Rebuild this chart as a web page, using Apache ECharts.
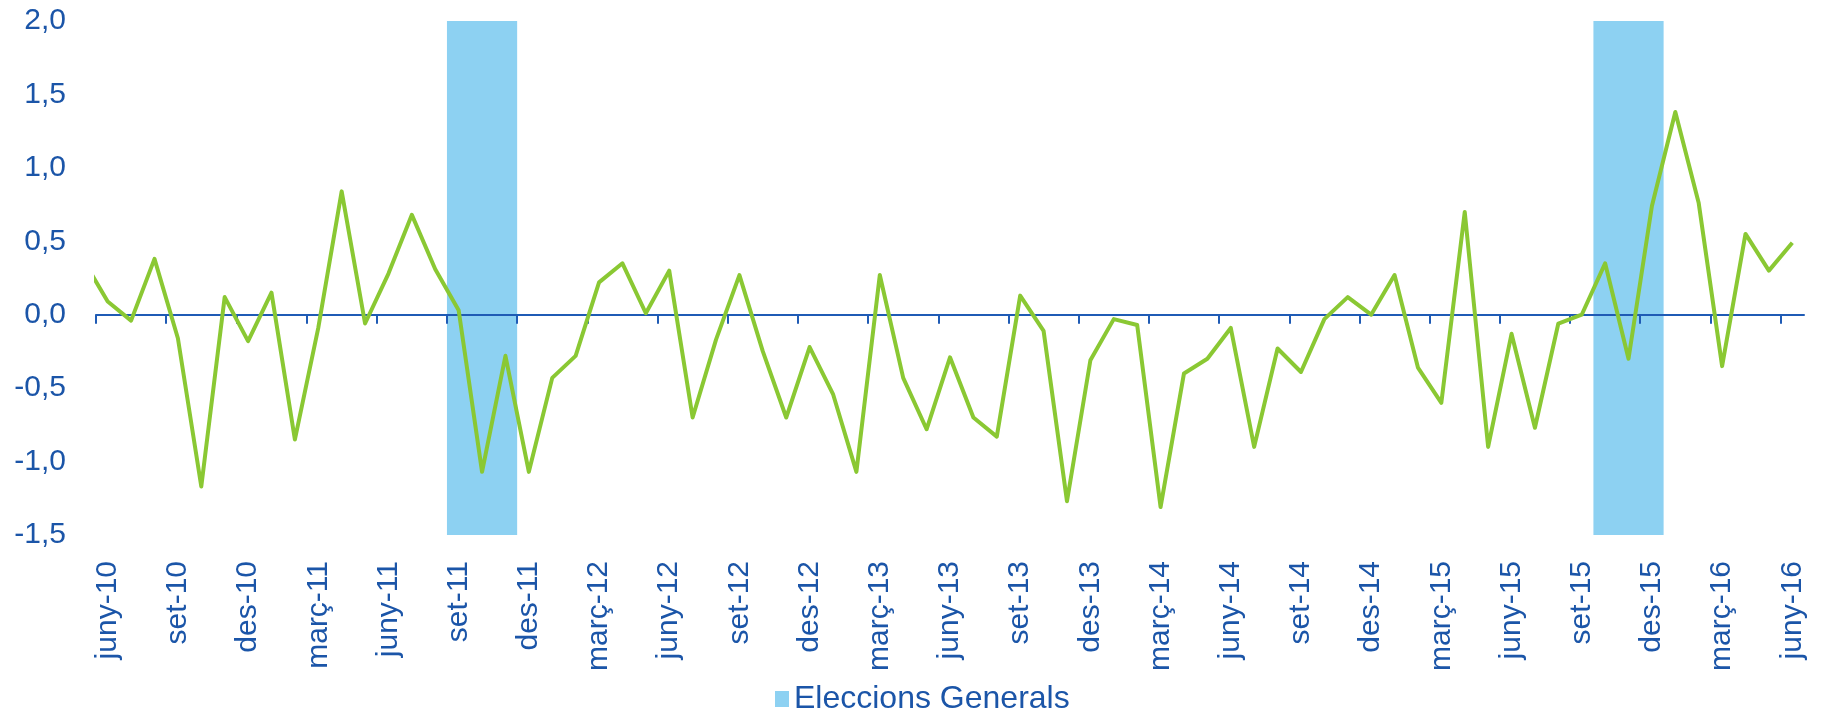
<!DOCTYPE html>
<html>
<head>
<meta charset="utf-8">
<script src="https://cdn.jsdelivr.net/npm/echarts@6.0.0/dist/echarts.min.js"></script>
<style>
html, body { margin: 0; padding: 0; background: #fff; }
#chart { width: 1823px; height: 714px; }
</style>
</head>
<body>
<div id="chart"></div>
<script>
// mesos: maig-10 (fora del gràfic, només es veu el tram retallat) ... juny-16
var monthNames = ['gen', 'febr', 'març', 'abr', 'maig', 'juny', 'jul', 'ag', 'set', 'oct', 'nov', 'des'];
var categories = [];
for (var yr = 10; yr <= 16; yr++) {
  for (var m = 0; m < 12; m++) categories.push(monthNames[m] + '-' + yr);
}
categories = categories.slice(categories.indexOf('maig-10'), categories.indexOf('juny-16') + 1);

var values = [0.36,
  0.09, -0.04, 0.38, -0.16, -1.17, 0.12, -0.18, 0.15, -0.85, -0.09,
  0.84, -0.06, 0.28, 0.68, 0.31, 0.03, -1.07, -0.28, -1.07, -0.43,
  -0.28, 0.22, 0.35, 0.01, 0.30, -0.70, -0.17, 0.27, -0.25, -0.70,
  -0.22, -0.54, -1.07, 0.27, -0.43, -0.78, -0.29, -0.70, -0.83, 0.13,
  -0.11, -1.27, -0.31, -0.03, -0.07, -1.31, -0.40, -0.30, -0.09, -0.90,
  -0.23, -0.39, -0.03, 0.12, 0.00, 0.27, -0.36, -0.60, 0.70, -0.90,
  -0.13, -0.77, -0.06, 0.00, 0.35, -0.30, 0.74, 1.38, 0.76, -0.35,
  0.55, 0.30, 0.49];

// periodes d'eleccions generals (primer i darrer mes)
var electionFrom = ['set-11', 'oct-15'];
var electionTo = ['nov-11', 'des-15'];

var shownLabels = ['juny-10', 'set-10', 'des-10', 'març-11', 'juny-11', 'set-11', 'des-11',
  'març-12', 'juny-12', 'set-12', 'des-12', 'març-13', 'juny-13', 'set-13', 'des-13',
  'març-14', 'juny-14', 'set-14', 'des-14', 'març-15', 'juny-15', 'set-15', 'des-15',
  'març-16', 'juny-16'];

var yMin = -1.5, yMax = 2.0;

var blue = '#1B55A8';
var font = 'Liberation Sans, Arial, sans-serif';

// posició d'un mes a l'eix (centre de la categoria)
function pos(name) { return categories.indexOf(name) - 0.5; }

var lineData = values.map(function (v, i) { return [i - 0.5, v]; });
var tickPos = shownLabels.map(function (n) { return pos(n) - 0.5; });
var labelPos = shownLabels.map(pos);
var electionData = electionFrom.map(function (f, k) {
  return [pos(f) - 0.5, pos(electionTo[k]) + 0.5];
});

var chart = echarts.init(document.getElementById('chart'), null, { renderer: 'canvas' });

chart.setOption({
  animation: false,
  textStyle: { fontFamily: font },
  grid: { left: 96, right: 19, top: 21, bottom: 179 },
  legend: {
    data: [{ name: 'Eleccions Generals', icon: 'rect' }],
    left: 775,
    top: 683,
    padding: 0,
    itemWidth: 14,
    itemHeight: 16,
    itemGap: 5,
    textStyle: { color: blue, fontSize: 32, fontFamily: font }
  },
  xAxis: [{
    type: 'value',
    min: 0,
    max: categories.length - 1,
    position: 'bottom',
    z: 3,
    axisLine: { onZero: true, lineStyle: { color: '#1F5BB5', width: 2 } },
    axisTick: { customValues: tickPos, length: 9, lineStyle: { color: '#1F5BB5', width: 2 } },
    axisLabel: { show: false },
    splitLine: { show: false }
  }, {
    type: 'value',
    min: 0,
    max: categories.length - 1,
    position: 'bottom',
    axisLine: { show: false, onZero: false },
    axisTick: { show: false },
    splitLine: { show: false },
    axisLabel: {
      customValues: labelPos,
      rotate: 90,
      margin: 26,
      fontSize: 30,
      color: blue,
      fontFamily: font,
      formatter: function (v) { return categories[Math.round(v + 0.5)]; }
    }
  }],
  yAxis: {
    type: 'value',
    min: yMin,
    max: yMax,
    interval: 0.5,
    axisLine: { show: false },
    axisTick: { show: false },
    splitLine: { show: false },
    axisLabel: {
      fontSize: 30,
      margin: 30,
      color: blue,
      fontFamily: font,
      formatter: function (v) { return v.toFixed(1).replace('.', ','); }
    }
  },
  series: [{
    name: 'Eleccions Generals',
    type: 'custom',
    xAxisIndex: 0,
    z: 1,
    itemStyle: { color: '#8DD1F2' },
    encode: { x: [0, 1] },
    data: electionData,
    renderItem: function (params, api) {
      var p0 = api.coord([api.value(0), yMax]);
      var p1 = api.coord([api.value(1), yMin]);
      return {
        type: 'rect',
        shape: { x: p0[0], y: p0[1], width: p1[0] - p0[0], height: p1[1] - p0[1] },
        style: { fill: '#8DD1F2' }
      };
    }
  }, {
    name: 'IPC',
    type: 'line',
    xAxisIndex: 0,
    z: 5,
    clip: true,
    showSymbol: false,
    data: lineData,
    lineStyle: { color: '#8AC833', width: 4, join: 'round' },
    itemStyle: { color: '#8AC833' }
  }]
});
</script>
</body>
</html>
